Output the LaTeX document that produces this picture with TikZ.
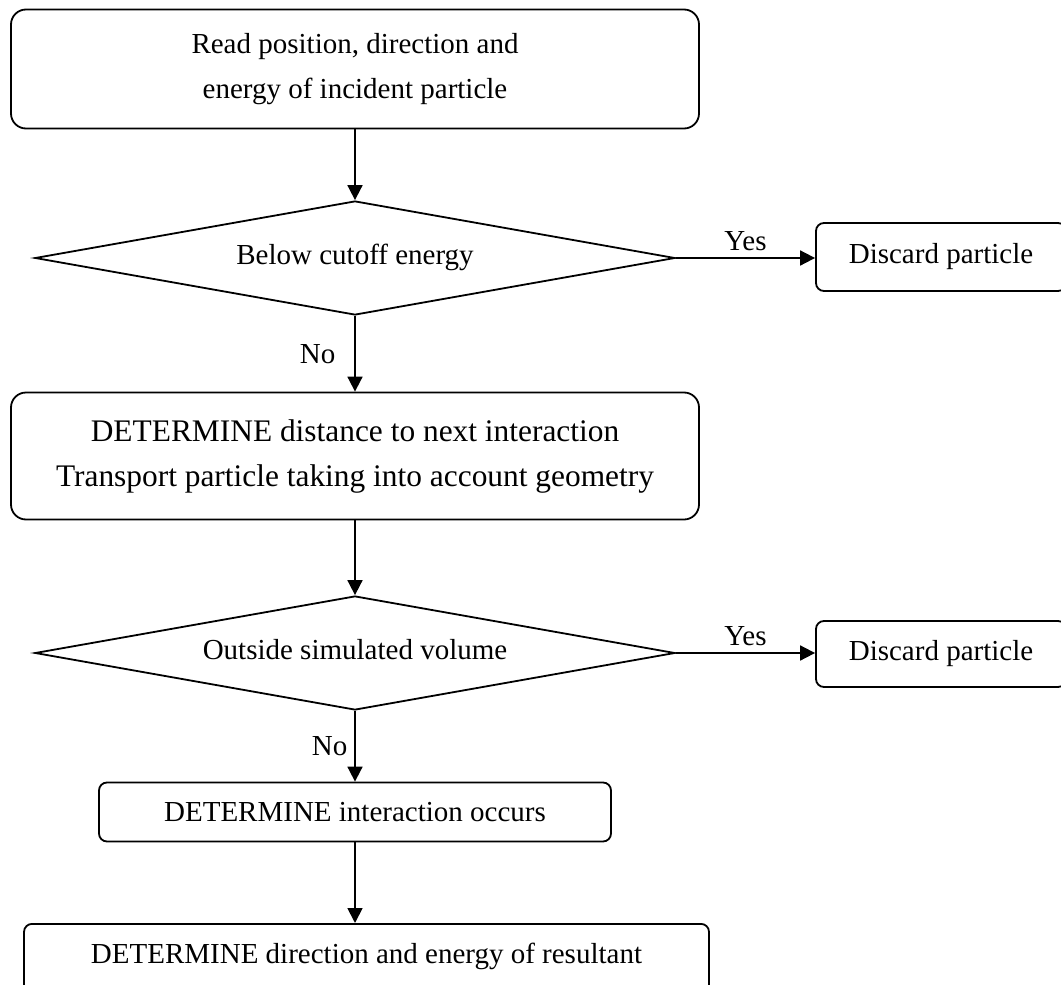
\documentclass[tikz,border=0pt]{standalone}
\usepackage{fontspec}
\setmainfont{Liberation Serif}
\usetikzlibrary{shapes.geometric,arrows.meta,positioning}

\begin{document}
\begin{tikzpicture}[x=0.5pt,y=-0.5pt,
 font=\fontsize{14.5}{22.5}\selectfont,
 line width=0.9pt,
 >={Triangle[length=7.5pt,width=7.5pt]},
 bigbox/.style={draw, rounded corners=7.5pt, align=center, minimum width=344pt},
 smallbox/.style={draw, rounded corners=4pt, align=center},
 decision/.style={draw, diamond, aspect=5.6, minimum width=320pt, minimum height=57pt, inner sep=0pt}]

 \useasboundingbox (0,0) rectangle (1061,985);

 \node[bigbox, minimum height=59.5pt] (read) at (355,69) {Read position, direction and\\energy of incident particle};
 \node[decision] (cutoff) at (355,258) {\raisebox{4pt}{Below cutoff energy}};
 \node[smallbox, minimum width=125pt, minimum height=34pt] (discardA) at (941,257) {Discard particle};
 \node[bigbox, minimum height=63.5pt, font=\fontsize{15.7}{22.5}\selectfont] (transport) at (355,456) {DETERMINE distance to next interaction\\Transport particle taking into account geometry};
 \node[decision] (outside) at (355,653) {\raisebox{4pt}{Outside simulated volume}};
 \node[smallbox, minimum width=125pt, minimum height=33pt] (discardB) at (941,654) {Discard particle};
 \node[smallbox, minimum width=256pt, minimum height=29.5pt] (interact) at (355,812) {DETERMINE interaction occurs};
 \node[smallbox, anchor=north, minimum width=342.5pt, text height=10pt, inner ysep=10pt, text depth=60pt] (result) at (366.5,923) {DETERMINE direction and energy of resultant};

 \draw[->] (read) -- (cutoff);
 \draw[->] (cutoff.east) -- node[above]{Yes} (cutoff.east -| discardA.west);
 \draw[->] (cutoff) -- node[left, xshift=-6pt]{No} (transport);
 \draw[->] (transport) -- (outside);
 \draw[->] (outside.east) -- node[above]{Yes} (outside.east -| discardB.west);
 \draw[->] (outside) -- node[left]{No} (interact);
 \draw[->] (interact) -- (interact |- result.north);
\end{tikzpicture}
\end{document}
